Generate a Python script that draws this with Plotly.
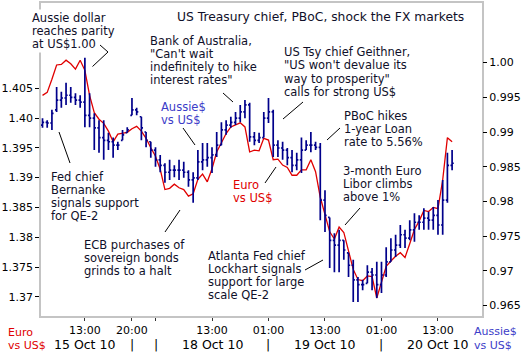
import plotly.graph_objects as go

# ---------------- data ----------------
hours = list(range(88))  # hourly bar index

euro_usd = [1.4038, 1.4043, 1.4065, 1.4089, 1.4090, 1.4097, 1.4091, 1.4082, 1.4097, 1.4080,
            1.4038, 1.4009, 1.3998, 1.3991, 1.3978, 1.3960, 1.3973, 1.3974, 1.3976, 1.3982,
            1.3986, 1.3978, 1.3966, 1.3950, 1.3936, 1.3914, 1.3880, 1.3882, 1.3889, 1.3883,
            1.3880, 1.3869, 1.3873, 1.3897, 1.3906, 1.3893, 1.3915, 1.3943, 1.3959, 1.3974,
            1.3985, 1.3988, 1.3992, 1.3985, 1.3943, 1.3946, 1.3945, 1.3966, 1.3963, 1.3930,
            1.3931, 1.3921, 1.3917, 1.3904, 1.3904, 1.3913, 1.3913, 1.3930, 1.3910, 1.3867,
            1.3839, 1.3809, 1.3797, 1.3817, 1.3808, 1.3777, 1.3746, 1.3729, 1.3727, 1.3735,
            1.3734, 1.3698, 1.3723, 1.3751, 1.3760, 1.3768, 1.3774, 1.3766, 1.3789, 1.3813,
            1.3827, 1.3845, 1.3843, 1.3850, 1.3848, 1.3896, 1.3967, 1.3960]

aud_open = [0.9910, 0.9914, 0.9913, 0.9932, 0.9946, 0.9949, 0.9953, 0.9950, 0.9946, 0.9943,
            0.9924, 0.9920, 0.9906, 0.9892, 0.9888, 0.9886, 0.9881, 0.9888, 0.9899, 0.9924,
            0.9932, 0.9922, 0.9900, 0.9886, 0.9874, 0.9860, 0.9852, 0.9842, 0.9845, 0.9845,
            0.9845, 0.9842, 0.9831, 0.9834, 0.9857, 0.9860, 0.9863, 0.9867, 0.9881, 0.9903,
            0.9910, 0.9914, 0.9920, 0.9929, 0.9939, 0.9893, 0.9888, 0.9892, 0.9920, 0.9929,
            0.9881, 0.9877, 0.9874, 0.9863, 0.9852, 0.9860, 0.9874, 0.9881, 0.9881, 0.9878,
            0.9802, 0.9777, 0.9744, 0.9737, 0.9744, 0.9726, 0.9708, 0.9687, 0.9680, 0.9682,
            0.9698, 0.9694, 0.9680, 0.9694, 0.9713, 0.9730, 0.9737, 0.9752, 0.9747, 0.9759,
            0.9770, 0.9770, 0.9776, 0.9773, 0.9780, 0.9766, 0.9802, 0.9852]

aud_high = [0.9920, 0.9917, 0.9932, 0.9965, 0.9958, 0.9971, 0.9965, 0.9956, 0.9953, 1.0007,
            0.9956, 0.9927, 0.9917, 0.9917, 0.9899, 0.9892, 0.9886, 0.9903, 0.9907, 0.9949,
            0.9935, 0.9922, 0.9900, 0.9886, 0.9878, 0.9867, 0.9855, 0.9860, 0.9852, 0.9860,
            0.9857, 0.9845, 0.9842, 0.9874, 0.9884, 0.9884, 0.9878, 0.9900, 0.9914, 0.9917,
            0.9922, 0.9929, 0.9939, 0.9946, 0.9942, 0.9900, 0.9899, 0.9929, 0.9949, 0.9932,
            0.9888, 0.9886, 0.9877, 0.9874, 0.9870, 0.9892, 0.9888, 0.9900, 0.9886, 0.9884,
            0.9816, 0.9777, 0.9754, 0.9759, 0.9744, 0.9726, 0.9716, 0.9691, 0.9687, 0.9708,
            0.9704, 0.9713, 0.9713, 0.9734, 0.9747, 0.9752, 0.9766, 0.9759, 0.9773, 0.9783,
            0.9780, 0.9790, 0.9785, 0.9792, 0.9802, 0.9831, 0.9870, 0.9874]

aud_low = [0.9906, 0.9906, 0.9903, 0.9929, 0.9935, 0.9939, 0.9942, 0.9939, 0.9935, 0.9907,
           0.9907, 0.9874, 0.9870, 0.9860, 0.9874, 0.9863, 0.9874, 0.9888, 0.9899, 0.9924,
           0.9924, 0.9888, 0.9878, 0.9863, 0.9850, 0.9842, 0.9827, 0.9831, 0.9835, 0.9831,
           0.9834, 0.9821, 0.9798, 0.9831, 0.9845, 0.9850, 0.9841, 0.9864, 0.9881, 0.9896,
           0.9906, 0.9910, 0.9914, 0.9920, 0.9886, 0.9881, 0.9884, 0.9892, 0.9913, 0.9864,
           0.9864, 0.9860, 0.9852, 0.9842, 0.9845, 0.9841, 0.9874, 0.9871, 0.9874, 0.9773,
           0.9756, 0.9704, 0.9698, 0.9698, 0.9716, 0.9691, 0.9655, 0.9655, 0.9672, 0.9682,
           0.9672, 0.9661, 0.9668, 0.9691, 0.9713, 0.9720, 0.9733, 0.9733, 0.9744, 0.9742,
           0.9759, 0.9759, 0.9759, 0.9759, 0.9752, 0.9752, 0.9798, 0.9845]

aud_close = [0.9914, 0.9913, 0.9927, 0.9946, 0.9949, 0.9953, 0.9950, 0.9946, 0.9943, 0.9924,
             0.9920, 0.9906, 0.9892, 0.9888, 0.9886, 0.9881, 0.9881, 0.9896, 0.9903, 0.9932,
             0.9929, 0.9906, 0.9888, 0.9874, 0.9860, 0.9852, 0.9842, 0.9845, 0.9845, 0.9845,
             0.9842, 0.9831, 0.9834, 0.9857, 0.9860, 0.9863, 0.9867, 0.9881, 0.9903, 0.9910,
             0.9914, 0.9920, 0.9929, 0.9939, 0.9893, 0.9888, 0.9892, 0.9920, 0.9929, 0.9881,
             0.9877, 0.9874, 0.9863, 0.9852, 0.9860, 0.9874, 0.9881, 0.9881, 0.9878, 0.9802,
             0.9780, 0.9744, 0.9737, 0.9744, 0.9730, 0.9708, 0.9687, 0.9680, 0.9680, 0.9698,
             0.9694, 0.9680, 0.9694, 0.9713, 0.9730, 0.9737, 0.9752, 0.9747, 0.9759, 0.9770,
             0.9770, 0.9776, 0.9773, 0.9780, 0.9766, 0.9802, 0.9852, 0.9855]

time_tick_pos = [9, 19, 24, 36, 48, 60, 72, 84]
time_tick_text = ["13:00", "20:00", "", "13:00", "01:00", "13:00", "01:00", "13:00"]
date_pos = [9, 19, 24, 36, 48, 60, 72, 84]
date_text = ["15 Oct 10", "|", "|", "18 Oct 10", "|", "19 Oct 10", "|", "20 Oct 10"]

euro_ticks = [1.37, 1.375, 1.38, 1.385, 1.39, 1.395, 1.40, 1.405]
euro_tick_text = ["1.37", "1.375", "1.38", "1.385", "1.39", "1.395", "1.40", "1.405"]
aud_ticks = [0.965, 0.97, 0.975, 0.98, 0.985, 0.99, 0.995, 1.00]
aud_tick_text = ["0.965", "0.97", "0.975", "0.98", "0.985", "0.99", "0.995", "1.00"]

# ---------------- layout helpers ----------------
W, H = 525, 357
L, R, T, B = 41, 482, 3, 316
FONT = "DejaVu Sans"
TXT = "#10102a"
RED = "#e00000"
BLUE = "#00008b"
LBLUE = "#3c3cc8"


def px(x):
    return (x - L) / (R - L)


def py(y):
    return (B - y) / (B - T)


fig = go.Figure()
fig.add_trace(go.Scatter(x=hours, y=euro_usd, mode="lines", yaxis="y",
                         line=dict(color=RED, width=1.3), name="Euro vs US$",
                         showlegend=False))
fig.add_trace(go.Ohlc(x=hours, open=aud_open, high=aud_high, low=aud_low, close=aud_close,
                      yaxis="y2", tickwidth=0.35, name="Aussie$ vs US$",
                      increasing=dict(line=dict(color=BLUE, width=1.7)),
                      decreasing=dict(line=dict(color=BLUE, width=1.7)),
                      showlegend=False))

annotations = []


def text_block(x, ys, lines, color=TXT, size=11.5, bg=None):
    for y, t in zip(ys, lines):
        a = dict(x=px(x - 2), y=py(y), xref="paper", yref="paper", text=t,
                 showarrow=False, xanchor="left", yanchor="middle",
                 font=dict(family=FONT, size=size, color=color))
        if bg:
            a["bgcolor"] = bg
        annotations.append(a)


text_block(177, [17], ["US Treasury chief, PBoC, shock the FX markets"], size=12.3)
text_block(32, [18, 31, 44], ["Aussie dollar", "reaches parity", "at US$1.00"], bg="white")
text_block(150, [41, 54, 67, 80], ["Bank of Australia,", "\"Can't wait",
                                   "indefinitely to hike", "interest rates\""])
text_block(284, [52, 65, 79, 92], ["US Tsy chief Geithner,", "\"US won't devalue its",
                                   "way to prosperity\"", "calls for strong US$"])
text_block(344, [116, 129, 142], ["PBoC hikes", "1-year Loan", "rate to 5.56%"])
text_block(343, [171, 184, 197], ["3-month Euro", "Libor climbs", "above 1%"])
text_block(208, [256, 269, 282, 295], ["Atlanta Fed chief", "Lockhart signals",
                                       "support for large", "scale QE-2"])
text_block(84, [245, 258, 271], ["ECB purchases of", "sovereign bonds", "grinds to a halt"])
text_block(51, [177, 190, 203, 216], ["Fed chief", "Bernanke", "signals support", "for QE-2"])
text_block(161, [107, 120], ["Aussie$", "vs US$"], color=LBLUE)
text_block(233, [185, 198], ["Euro", "vs US$"], color=RED)
text_block(8, [332, 345], ["Euro", "vs US$"], color=RED, size=11)
text_block(474, [331, 345], ["Aussie$", "vs US$"], color=LBLUE, size=11)

for xp, t in zip(date_pos, date_text):
    annotations.append(dict(x=xp, y=py(344), xref="x", yref="paper", text=t,
                            showarrow=False, xanchor="center", yanchor="middle",
                            font=dict(family=FONT, size=12.5, color="#000000")))

pointer_segments = [
    ((100, 45), (108, 52)), ((108, 52), (92.5, 66.5)),
    ((223, 93), (233, 102)),
    ((283, 119), (303, 102)),
    ((327, 140), (340, 128)),
    ((345, 225), (360, 208)),
    ((305, 270), (323, 260)),
    ((165, 232), (180, 210)),
    ((59, 132), (70, 163)),
    ((183, 128), (195, 145)),
    ((265, 183), (276, 167)),
]
shapes = []
for (x0, y0), (x1, y1) in pointer_segments:
    shapes.append(dict(type="line", xref="paper", yref="paper",
                       x0=px(x0), y0=py(y0), x1=px(x1), y1=py(y1),
                       line=dict(color="#000000", width=1)))

FRAME = "#c4c4c4"
fig.update_layout(
    width=W, height=H,
    margin=dict(l=L, r=W - R, t=T, b=H - B, autoexpand=False),
    paper_bgcolor="white", plot_bgcolor="white",
    font=dict(family=FONT, size=11, color="#000000"),
    showlegend=False,
    annotations=annotations,
    shapes=shapes,
    xaxis=dict(range=[-0.32, 93.35], tickvals=time_tick_pos, ticktext=time_tick_text,
               ticks="outside", ticklen=3, tickcolor="#333333", showgrid=False,
               zeroline=False, showline=True, linecolor=FRAME, linewidth=1.5, mirror=True,
               rangeslider=dict(visible=False), tickfont=dict(size=11, family=FONT),
               automargin=False),
    yaxis=dict(range=[1.36678, 1.4193], tickvals=euro_ticks, ticktext=euro_tick_text,
               ticks="outside", ticklen=4, tickcolor="#000000", showgrid=False,
               zeroline=False, showline=True, linecolor=FRAME, linewidth=1.5, mirror=True,
               tickfont=dict(size=11, family=FONT), automargin=False),
    yaxis2=dict(range=[0.96349, 1.00859], tickvals=aud_ticks, ticktext=aud_tick_text,
                overlaying="y", side="right", ticks="outside", ticklen=4,
                tickcolor="#000000", showgrid=False, zeroline=False, showline=False,
                tickfont=dict(size=11, family=FONT), automargin=False),
)

fig.write_html("out.html", config={"displayModeBar": False},
               post_script="document.body.style.margin='0px';")
